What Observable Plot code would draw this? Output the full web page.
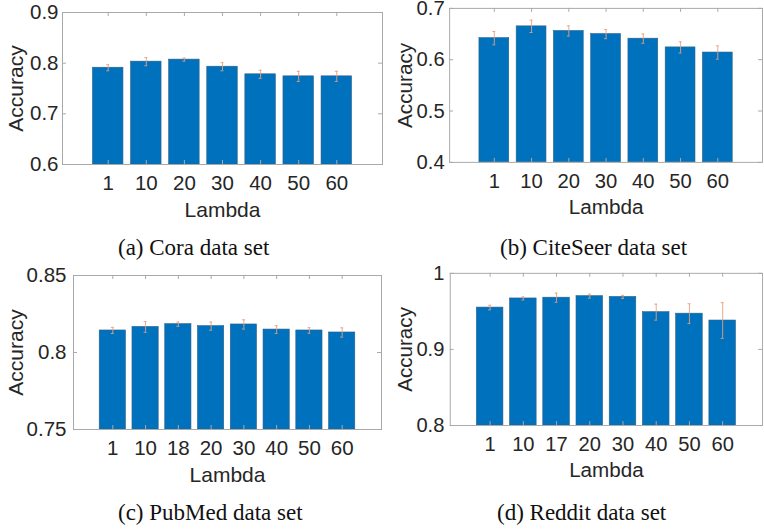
<!DOCTYPE html>
<html><head><meta charset="utf-8">
<script src="https://cdn.jsdelivr.net/npm/d3@7"></script>
<script src="https://cdn.jsdelivr.net/npm/@observablehq/plot@0.6"></script>
<style>
html,body{margin:0;padding:0;background:#fff;overflow:hidden;}
#fig{position:relative;width:764px;height:529px;overflow:hidden;background:#fff;}
.panel{position:absolute;}
.cap{position:absolute;font-family:"Liberation Serif","Times New Roman",serif;font-size:23px;color:#111;white-space:nowrap;line-height:1;}
</style></head><body><div id="fig"></div>
<script>
// (a) Cora
const lambdasA = ["1","10","20","30","40","50","60"];
const accA = [0.791,0.803,0.807,0.793,0.778,0.774,0.774];
const errA = [0.006,0.008,0.003,0.008,0.008,0.010,0.010];
const domainA = [0.6,0.9];
const ticksA = [0.6,0.7,0.8,0.9];
// (b) CiteSeer
const lambdasB = ["1","10","20","30","40","50","60"];
const accB = [0.642,0.665,0.656,0.650,0.641,0.624,0.614];
const errB = [0.013,0.012,0.010,0.009,0.009,0.011,0.013];
const domainB = [0.4,0.7];
const ticksB = [0.4,0.5,0.6,0.7];
// (c) PubMed
const lambdasC = ["1","10","18","20","30","40","50","60"];
const accC = [0.8143,0.8166,0.8184,0.8171,0.8182,0.8149,0.8143,0.8130];
const errC = [0.002,0.0035,0.0014,0.0026,0.003,0.0025,0.0018,0.003];
const domainC = [0.75,0.85];
const ticksC = [0.75,0.8,0.85];
// (d) Reddit
const lambdasD = ["1","10","17","20","30","40","50","60"];
const accD = [0.955,0.967,0.968,0.970,0.969,0.949,0.947,0.938];
const errD = [0.003,0.002,0.006,0.0026,0.002,0.0105,0.013,0.0235];
const domainD = [0.8,1];
const ticksD = [0.8,0.9,1];

const captions = ["(a) Cora data set","(b) CiteSeer data set","(c) PubMed data set","(d) Reddit data set"];
const yLabel = "Accuracy";
const xLabel = "Lambda";

const fig = document.getElementById("fig");

function panel(cfg){
  const {cats, acc, err, domain, ticks, left, top, ml, mt, pw, ph, pad, labelDx} = cfg;
  const pi = 0.2, po = 0.8;
  const step = pw / (cats.length - pi + 2*po);
  const bw = step*(1-pi);
  const mr = 2, mb = 70;
  const data = cats.map((c,i)=>({lambda:c, acc:acc[i], err:err[i]}));
  const gray = "#a9a9a9";
  const ebar = "#e8a07e";
  const txt = "#262626";
  const capHalf = Math.max(0, bw/2 - 1.5);
  const plot = Plot.plot({
    width: ml+pw+mr, height: mt+ph+mb,
    marginLeft: ml, marginRight: mr, marginTop: mt, marginBottom: mb,
    style: {fontFamily: "'Liberation Sans', Arial, sans-serif", fontSize: "20px", color: txt, background: "transparent", overflow: "visible"},
    x: {type:"band", domain: cats, paddingInner: pi, paddingOuter: po, align: 0.5, round: false},
    y: {domain},
    marks: [
      Plot.barY(data, {x:"lambda", y1: () => domain[0], y2:"acc", fill:"#0072BD", stroke:"#2d5e86", strokeWidth:0.6}),
      Plot.ruleX(data, {x:"lambda", y1: d=>d.acc-d.err, y2: d=>d.acc+d.err, stroke: ebar, strokeWidth: 0.9}),
      Plot.tickY(data, {x:"lambda", y: d=>d.acc+d.err, stroke: ebar, strokeWidth: 0.9, insetLeft: capHalf, insetRight: capHalf}),
      Plot.tickY(data, {x:"lambda", y: d=>d.acc-d.err, stroke: ebar, strokeWidth: 0.9, insetLeft: capHalf, insetRight: capHalf}),
      Plot.frame({stroke: gray}),
      Plot.tickY(ticks, {y: d=>d, stroke: gray, insetRight: pw-4}),
      Plot.tickY(ticks, {y: d=>d, stroke: gray, insetLeft: pw-4}),
      Plot.tickX(cats, {x: d=>d, stroke: gray, insetTop: ph-4}),
      Plot.tickX(cats, {x: d=>d, stroke: gray, insetBottom: ph-4}),
      Plot.axisY({ticks, tickSize: 0, tickPadding: pad, tickFormat: d=>String(d), label: null, fontSize: 20.5, fill: txt}),
      Plot.axisX({tickSize: 0, tickPadding: 11, label: null, fontSize: 20.5, fill: txt}),
      Plot.text([yLabel], {frameAnchor:"left", textAnchor:"middle", lineAnchor:"middle", rotate:-90, dx: labelDx, fill: txt, fontSize: 21}),
      Plot.text([xLabel], {frameAnchor:"bottom", textAnchor:"middle", lineAnchor:"middle", dy: 45.5, fill: txt, fontSize: 21})
    ]
  });
  const div = document.createElement("div");
  div.className = "panel";
  div.style.left = left + "px";
  div.style.top = top + "px";
  div.appendChild(plot);
  fig.appendChild(div);
}

panel({cats:lambdasA, acc:accA, err:errA, domain:domainA, ticks:ticksA, left:0, top:0, ml:62, mt:12, pw:320, ph:152, pad:4, labelDx:-46});
panel({cats:lambdasB, acc:accB, err:errB, domain:domainB, ticks:ticksB, left:382, top:0, ml:68, mt:8, pw:317, ph:156, pad:5, labelDx:-45});
panel({cats:lambdasC, acc:accC, err:errC, domain:domainC, ticks:ticksC, left:0, top:264, ml:73, mt:11, pw:308, ph:154, pad:7, labelDx:-57});
panel({cats:lambdasD, acc:accD, err:errD, domain:domainD, ticks:ticksD, left:382, top:264, ml:69, mt:9, pw:318, ph:155, pad:6, labelDx:-46});

const capPos = [[118,236],[500,236],[118,501],[497,501]];
captions.forEach((t,i)=>{
  const d = document.createElement("div");
  d.className = "cap";
  d.textContent = t;
  d.style.left = capPos[i][0] + "px";
  d.style.top = capPos[i][1] + "px";
  fig.appendChild(d);
});
</script>
</body></html>
